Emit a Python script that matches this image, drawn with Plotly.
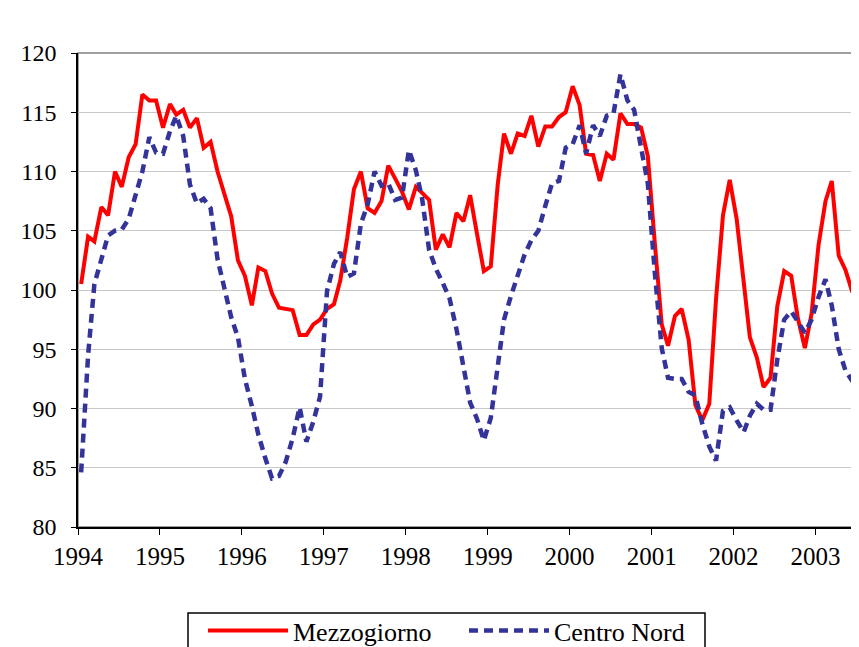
import pandas as pd
import plotly.graph_objects as go

start_month = "1994-01-01"
year_ticks = [1994, 1995, 1996, 1997, 1998, 1999, 2000, 2001, 2002, 2003]

mezzogiorno = [
    100.5, 104.5, 104.1, 107.0, 106.3, 110.0, 108.7, 111.2, 112.3, 116.5, 116.0, 116.0,
    113.7, 115.7, 114.8, 115.2, 113.7, 114.5, 112.0, 112.5, 110.0, 108.2, 106.2, 102.5,
    101.2, 98.7, 101.9, 101.6, 99.7, 98.5, 98.4, 98.3, 96.2, 96.2, 97.1, 97.5,
    98.4, 98.8, 100.8, 104.4, 108.5, 110.0, 106.9, 106.5, 107.5, 110.5, 109.4, 108.3,
    106.8, 108.7, 108.2, 107.6, 103.4, 104.7, 103.6, 106.5, 105.8, 108.0, 104.7, 101.6,
    102.0, 108.9, 113.2, 111.5, 113.2, 113.0, 114.7, 112.1, 113.8, 113.8, 114.6, 115.0,
    117.2, 115.6, 111.5, 111.4, 109.2, 111.5, 111.0, 114.9, 114.0, 114.0, 113.7, 111.3,
    104.0, 97.1, 95.3, 97.8, 98.4, 95.8, 90.3, 89.0, 90.4, 99.2, 106.3, 109.3,
    106.0, 100.9, 96.0, 94.3, 91.8, 92.6, 98.6, 101.6, 101.2, 97.6, 95.1, 98.0,
    103.8, 107.5, 109.2, 102.9, 101.7, 99.8,
]

centro_nord = [
    84.6, 94.5, 100.5, 102.5, 104.6, 105.0, 105.1, 106.0, 108.2, 110.0, 112.9, 111.6,
    111.5, 113.4, 114.7, 113.0, 108.9, 107.3, 107.7, 106.9, 102.6, 100.2, 97.7, 96.0,
    92.5, 90.2, 87.8, 85.8, 84.1, 84.3, 85.5, 87.5, 90.1, 87.2, 88.9, 91.0,
    99.9, 102.2, 103.2, 101.1, 101.4, 105.6, 107.2, 110.0, 108.8, 109.0, 107.6, 107.8,
    111.8, 110.1, 107.7, 103.4, 101.8, 100.6, 99.3, 96.7, 93.3, 90.5, 89.1, 87.3,
    89.2, 93.4, 97.5, 99.5, 101.3, 103.0, 104.2, 105.0, 107.1, 109.0, 109.2, 112.0,
    112.3, 113.9, 111.5, 113.9, 113.0, 114.7, 114.9, 118.2, 116.0, 115.2, 112.0, 109.0,
    101.5, 95.1, 92.6, 92.5, 92.5, 91.4, 91.1, 88.7, 86.8, 85.6, 89.8, 90.1,
    89.0, 88.0, 89.4, 90.4, 89.9, 89.9, 94.1, 97.5, 98.2, 97.3, 96.4, 97.5,
    99.4, 100.9, 98.7, 95.0, 93.2, 92.3,
]

months = pd.date_range(start_month, periods=len(mezzogiorno), freq="MS") + pd.Timedelta(days=14)

FONT = "Liberation Serif"

fig = go.Figure()
fig.add_trace(go.Scatter(
    x=months, y=mezzogiorno, name="Mezzogiorno", mode="lines",
    line=dict(color="#FF0000", width=4),
))
fig.add_trace(go.Scatter(
    x=months, y=centro_nord, name="Centro Nord", mode="lines",
    line=dict(color="#333399", width=4.5, dash="9px,6px"),
))

# page body has an 8px margin; figure sized to compensate
OFF = 8
W, H = 859 - OFF, 647 - OFF
ml, mt, mr, mb = 70, 45, 3, 120
pw = W - ml - mr
ph = H - mt - mb


def px(page_x):
    return (page_x - OFF - ml) / pw


def py(page_y):
    return (ph - (page_y - OFF - mt)) / ph


fig.update_layout(
    width=W, height=H,
    margin=dict(l=ml, r=mr, t=mt, b=mb, pad=0, autoexpand=False),
    paper_bgcolor="white", plot_bgcolor="white",
    font=dict(family=FONT, size=24, color="black"),
    showlegend=True,
    legend=dict(
        orientation="h",
        x=px(203), xanchor="left",
        y=py(607), yanchor="top",
        borderwidth=0, bgcolor="rgba(0,0,0,0)",
        font=dict(family=FONT, size=26, color="black"),
        itemwidth=80, entrywidth=166, tracegroupgap=0,
    ),
    xaxis=dict(
        range=["1994-01-01", "2003-07-01"],
        tickvals=[f"{y}-01-01" for y in year_ticks],
        ticktext=[str(y) for y in year_ticks],
        showgrid=False, zeroline=False,
        showline=True, linecolor="black", linewidth=1.5,
        ticks="outside", ticklen=6, tickcolor="black", tickwidth=1,
        ticklabelstandoff=0,
        tickfont=dict(family=FONT, size=25, color="black"),
    ),
    yaxis=dict(
        range=[80, 120], tickvals=[80, 85, 90, 95, 100, 105, 110, 115, 120],
        showgrid=True, gridcolor="#C8C8C8", gridwidth=1, zeroline=False,
        showline=True, linecolor="black", linewidth=1.5,
        ticks="outside", ticklen=5, tickcolor="black", tickwidth=1,
        ticklabelstandoff=10,
        tickfont=dict(family=FONT, size=24, color="black"),
    ),
    shapes=[
        dict(type="rect", xref="paper", yref="paper", x0=0, x1=1, y0=0, y1=1,
             line=dict(color="#808080", width=1.5), layer="below"),
        dict(type="rect", xref="paper", yref="paper",
             x0=px(188), x1=px(705), y0=py(613), y1=py(665),
             line=dict(color="black", width=1.5), fillcolor="white", layer="below"),
    ],
)

fig.write_html("out.html")
